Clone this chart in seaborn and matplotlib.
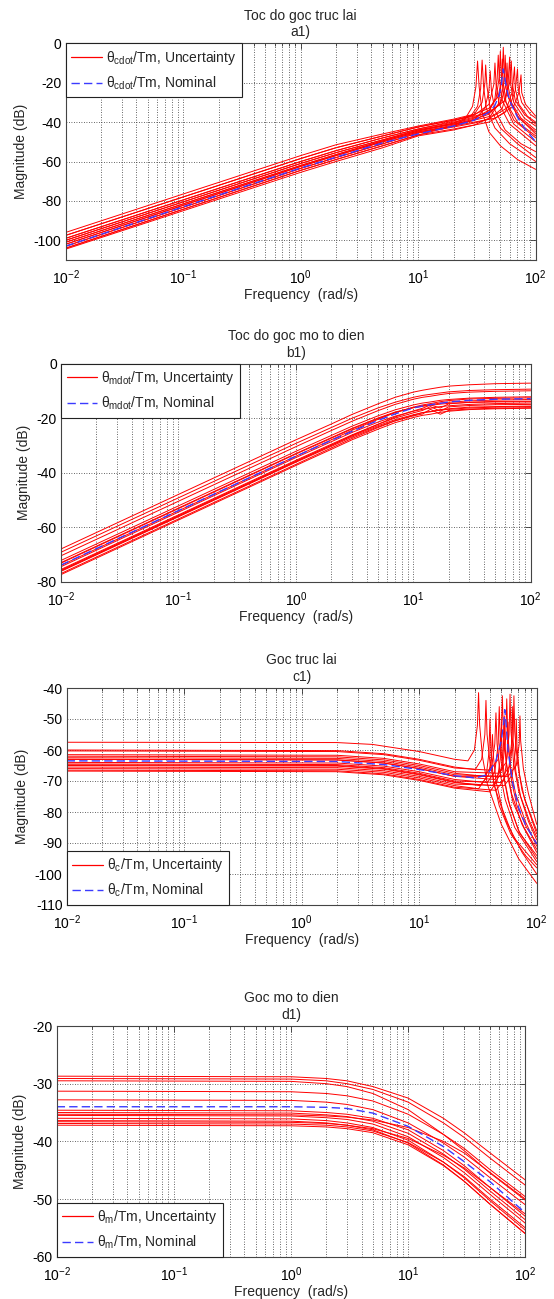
import pandas as pd
import seaborn as sns
import matplotlib.pyplot as plt
from matplotlib.lines import Line2D
from matplotlib.ticker import LogLocator, NullFormatter, MultipleLocator

# ---- a1) theta_cdot / Tm : (freq rad/s, dB) points ----
A_NOMINAL = [(0.01, -103), (0.1, -83), (1, -63.3), (2, -57.8), (5, -50.5), (10, -46), (20, -42),
             (30, -39), (40, -35), (45, -31.5), (49, -26), (51, -21), (53, -13), (55, -19),
             (58, -26), (62, -31), (70, -37.5), (80, -43), (100, -50)]
A_CURVES = [
    [(0.01, -104), (1, -64.5), (2, -59), (5, -52), (10, -46.5), (20, -42), (25, -38.5), (29, -32), (31, -22), (32, -9), (33, -22), (35, -35), (40, -45), (50, -52), (70, -59), (100, -64)],
    [(0.01, -101), (1, -62), (2, -56.5), (5, -49.5), (10, -44.5), (20, -40.5), (28, -37), (32, -32), (34, -23), (35, -8.5), (36, -22), (38, -33), (45, -43), (60, -51), (100, -60)],
    [(0.01, -99), (1, -60), (2, -54.5), (5, -48), (10, -43.5), (20, -39.5), (30, -36), (35, -30), (37, -20), (37.5, -11), (38.5, -22), (41, -33), (50, -43), (70, -51), (100, -58)],
    [(0.01, -103), (1, -63.5), (2, -58), (5, -51), (10, -45.5), (20, -42), (30, -39), (37, -33), (40, -24), (41, -14), (42, -24), (45, -34), (55, -44), (75, -51), (100, -55)],
    [(0.01, -97.5), (1, -58.5), (2, -53), (5, -47), (10, -42.5), (20, -39), (30, -36.5), (40, -31), (44, -21), (45, -10), (46, -21), (49, -31), (60, -41), (100, -52)],
    [(0.01, -102), (1, -62.5), (2, -57), (5, -50), (10, -45), (20, -41.5), (30, -39), (40, -35), (45, -28), (47, -18), (48, -6), (49, -18), (52, -29), (65, -41), (100, -50)],
    [(0.01, -100), (1, -61), (2, -55.5), (5, -49), (10, -44), (20, -40.5), (30, -38), (40, -34), (46, -28), (49, -17), (50, -4), (51, -17), (54, -28), (65, -39), (100, -48)],
    [(0.01, -104.5), (1, -65.5), (2, -60), (5, -53), (10, -47), (20, -44), (30, -41.5), (40, -38), (48, -31), (51, -20), (52, -8), (53, -20), (56, -30), (70, -40), (100, -47)],
    [(0.01, -96), (1, -57), (2, -51.5), (5, -46), (10, -42), (20, -38.5), (30, -36), (40, -33), (48, -27), (52, -16), (53, -2), (54, -15), (57, -26), (70, -37), (100, -46)],
    [(0.01, -101), (1, -62), (2, -56.5), (5, -49.5), (10, -44.5), (20, -41), (30, -38.5), (40, -36), (50, -30), (54, -19), (55, -6), (56, -18), (59, -28), (72, -38), (100, -45)],
    [(0.01, -99), (1, -60), (2, -54.5), (5, -48), (10, -43.5), (20, -40), (30, -37.5), (40, -35), (50, -31), (56, -21), (57, -10), (58, -21), (62, -30), (75, -38), (100, -44)],
    [(0.01, -103), (1, -63.5), (2, -58), (5, -51), (10, -45.5), (20, -42.5), (30, -40.5), (40, -38.5), (52, -33), (58, -22), (60, -7), (61, -20), (65, -30), (80, -38), (100, -42)],
    [(0.01, -97.5), (1, -58.5), (2, -53), (5, -47), (10, -42.5), (20, -39), (30, -37), (40, -35), (55, -29), (60, -20), (62, -9), (63, -20), (67, -29), (80, -36), (100, -41)],
    [(0.01, -104), (1, -64.5), (2, -59), (5, -52), (10, -46.5), (20, -43.5), (30, -41.5), (40, -40), (55, -35), (63, -25), (66, -12), (67, -23), (72, -31), (85, -37), (100, -40)],
    [(0.01, -100), (1, -61), (2, -55.5), (5, -49), (10, -44), (20, -41), (30, -39), (45, -36.5), (60, -32), (67, -24), (70, -13), (71, -23), (76, -30), (90, -36), (100, -38)],
    [(0.01, -102), (1, -62.5), (2, -57), (5, -50), (10, -45), (20, -42), (30, -40), (45, -38), (65, -32), (72, -25), (75, -16), (76, -25), (82, -31), (100, -37)],
]

# ---- b1) theta_mdot / Tm : values on a shared frequency grid ----
B_FREQ = [0.01, 1, 2, 3, 5, 7, 10, 12, 14, 17, 20, 30, 50, 100]
B_NOMINAL = [-73.9, -34, -28.2, -24.9, -20.9, -18.5, -16.3, -15.6, -15.1, -14.6, -14.1, -13.5, -13.1, -12.9]
B_CURVES = [
    [-68, -28, -22.2, -18.7, -14.8, -12.4, -10.5, -9.8, -9.3, -8.7, -8.3, -7.8, -7.4, -7.2],
    [-69.2, -29.3, -23.5, -20.1, -16.3, -14.2, -12.4, -11.7, -11.3, -10.8, -10.4, -9.9, -9.6, -9.4],
    [-70.5, -30.5, -24.6, -21.2, -17.3, -15, -13.1, -12.4, -12, -11.4, -11, -10.5, -10.2, -10],
    [-72.2, -32.2, -26.4, -23, -19.2, -17, -15.2, -14.5, -14.1, -13.5, -13.2, -12.7, -12.4, -12.2],
    [-74, -34, -28, -24.5, -20.5, -18, -16, -15.2, -14.7, -14, -13.6, -13, -12.8, -12.6],
    [-73.2, -33.2, -27.4, -24, -20.2, -18, -16.2, -15.5, -15.1, -14.5, -14.2, -13.7, -13.4, -13.2],
    [-76, -36, -30, -26.4, -22.3, -19.6, -17.4, -16.4, -15.2, -16.3, -14.8, -14.2, -13.9, -13.8],
    [-74.5, -34.5, -28.7, -25.3, -21.5, -19.3, -17.5, -16.8, -16.4, -15.8, -15.5, -15, -14.7, -14.5],
    [-75.5, -35.5, -29.6, -26.2, -22.3, -20, -18.1, -17.2, -15.8, -17.5, -15.9, -15.4, -15.1, -15],
    [-77, -37, -31, -27.5, -23.5, -21, -19, -18, -17.6, -16.9, -16.6, -16, -15.8, -15.6],
    [-76.2, -36.2, -30.4, -27, -23.2, -21, -19.2, -18.5, -16.8, -18.6, -17.2, -16.7, -16.4, -16.2],
    [-77.4, -37.4, -31.5, -28, -24.1, -21.7, -19.8, -19, -18.6, -17.9, -17.5, -16.9, -16.6, -16.4],
    [-73, -33, -27.2, -23.8, -20, -17.8, -16.2, -15.7, -15.3, -14.9, -14.6, -14.3, -14.1, -14],
    [-75.8, -35.8, -30, -26.6, -22.8, -20.6, -18.8, -18, -17.7, -17.1, -16.8, -16.3, -16, -15.8],
]

# ---- c1) theta_c / Tm : (freq rad/s, dB) points ----
C_NOMINAL = [(0.01, -63.5), (2, -63.7), (5, -64.7), (10, -66.3), (20, -68.3), (30, -69), (38, -68),
             (45, -63.5), (50, -57), (52.5, -51), (53.5, -47), (55, -52), (57, -60), (62, -70),
             (70, -78.5), (80, -84), (100, -90.3)]
C_CURVES = [
    [(0.01, -57.5), (2, -57.6), (4, -58.2), (10, -60.5), (20, -63), (26, -63.5), (29.5, -60), (31.3, -52), (32, -41.5), (32.7, -52), (34.5, -62), (38, -71), (50, -84), (70, -95), (100, -103)],
    [(0.01, -60), (2, -60.2), (5, -61.2), (10, -63), (20, -65.5), (30, -66.3), (34, -63), (36.2, -55), (37, -44), (37.8, -55), (40, -64), (44, -72), (55, -83), (75, -93), (100, -100)],
    [(0.01, -66), (2, -66.2), (5, -67.2), (10, -69), (20, -71.5), (32, -72.5), (37, -69), (39.2, -61), (40, -50), (40.8, -61), (43, -70), (48, -78), (60, -87), (80, -94), (100, -98)],
    [(0.01, -62), (2, -62.2), (5, -63.2), (10, -65), (20, -67.5), (36, -68.5), (41.5, -65), (44, -58), (45, -48), (46, -58), (48.5, -67), (54, -76), (65, -85), (100, -96)],
    [(0.01, -64), (2, -64.2), (5, -65.2), (10, -67), (20, -69.5), (38, -70.5), (44, -67), (47, -58), (48, -46), (49, -57), (51.5, -67), (57, -76), (70, -86), (100, -95)],
    [(0.01, -60.3), (2, -60.5), (5, -61.5), (10, -63.3), (20, -65.8), (40, -66.5), (47, -63), (50, -54), (51, -42.5), (52, -54), (55, -64), (61, -74), (75, -84), (100, -93)],
    [(0.01, -65), (2, -65.2), (5, -66.2), (10, -68), (20, -70.5), (42, -71.5), (49, -68), (52, -60), (53, -49), (54, -60), (57, -69), (63, -77), (78, -85), (100, -92)],
    [(0.01, -63), (2, -63.2), (5, -64.2), (10, -66), (20, -68.5), (44, -69.5), (51, -66), (54.5, -56), (55.6, -43.5), (56.7, -55), (59.5, -65), (66, -74), (80, -83), (100, -91)],
    [(0.01, -66.5), (2, -66.7), (5, -67.7), (10, -69.5), (20, -72), (45, -73), (53, -69.5), (56, -62), (57, -51), (58, -61), (61, -70), (68, -78), (82, -85), (100, -90)],
    [(0.01, -61.5), (2, -61.7), (5, -62.7), (10, -64.5), (20, -67), (47, -67.5), (55, -64), (58.2, -55), (59.3, -42), (60.4, -54), (63.5, -64), (70, -73), (85, -83), (100, -89)],
    [(0.01, -64.5), (2, -64.7), (5, -65.7), (10, -67.5), (20, -70), (50, -70.5), (57.5, -67), (61, -58), (62, -46), (63, -57), (66.5, -67), (73, -75), (87, -83), (100, -88)],
    [(0.01, -62.5), (2, -62.7), (5, -63.7), (10, -65.5), (20, -68), (51, -68.5), (59.5, -65), (63, -55), (64, -42.5), (65, -54), (68.5, -64), (75, -73), (88, -81), (100, -87)],
    [(0.01, -65.5), (2, -65.7), (5, -66.7), (10, -68.5), (20, -71), (53, -71.5), (62, -68), (66, -60), (67, -50), (68, -59), (71.5, -68), (79, -76), (100, -86)],
    [(0.01, -63), (2, -63.2), (5, -64.2), (10, -66), (20, -68.5), (57, -68.5), (67, -65), (71, -58), (72, -49), (73, -57), (77, -66), (85, -74), (100, -84)],
    [(0.01, -66.8), (2, -67), (5, -68), (10, -69.8), (20, -72.3), (40, -73.5), (46, -70), (49, -63), (50, -53), (51, -62), (53.5, -70), (59, -78), (72, -87), (100, -94)],
    [(0.01, -64.8), (2, -65), (5, -66), (10, -67.8), (20, -70.3), (33, -71.5), (39, -68), (41.2, -62), (42, -55), (42.8, -62), (45, -70), (51, -79), (63, -88), (100, -97)],
]

# ---- d1) theta_m / Tm : values on a shared frequency grid ----
D_FREQ = [0.01, 1, 2, 3, 5, 10, 20, 30, 50, 100]
D_NOMINAL = [-34, -34, -34.1, -34.3, -35.1, -37.4, -40.9, -43.5, -47, -52.4]
D_CURVES = [
    [-28.7, -28.8, -29.1, -29.5, -30.5, -32.5, -36, -38.5, -42, -46.7],
    [-29.1, -29.2, -29.5, -30, -31, -33.2, -36.8, -39.3, -42.9, -47.6],
    [-29.5, -29.6, -30, -30.5, -31.7, -34.5, -38.8, -41.6, -45.5, -50.2],
    [-31.3, -31.4, -31.7, -32.1, -33, -35.3, -38.8, -41.2, -44.9, -49.6],
    [-32.8, -32.9, -33.2, -33.6, -34.5, -36.8, -40.3, -42.7, -46.3, -51],
    [-34.6, -34.7, -35, -35.3, -36, -38, -41.6, -44.2, -48, -53],
    [-35, -35.1, -35.4, -35.7, -36.5, -38.6, -42.2, -44.8, -48.6, -53.6],
    [-35.5, -35.6, -35.9, -36.2, -37, -39.2, -42.8, -45.4, -49.2, -54.2],
    [-36, -36.1, -36.4, -36.8, -37.6, -39.8, -43.6, -46.3, -50.3, -55.4],
    [-36.4, -36.5, -36.8, -37.2, -38, -40.3, -44.1, -46.9, -50.9, -56],
    [-36.9, -37, -37.2, -37.5, -38.2, -40.2, -43.6, -46.1, -50, -55],
    [-37.2, -37.3, -37.5, -37.8, -38.5, -40.6, -44.2, -46.9, -50.9, -56],
    [-35.3, -35.4, -35.6, -35.8, -36.3, -37.6, -40, -42, -45.4, -50],
    [-36.6, -36.7, -36.9, -37.2, -37.8, -39.5, -42.4, -44.6, -48, -52.6],
]

TITLES = ["Toc do goc truc lai\na1)", "Toc do goc mo to dien\nb1)",
          "Goc truc lai\nc1)", "Goc mo to dien\nd1)"]
SUBS = ["cdot", "mdot", "c", "m"]

RED = "red"
BLUE = "#3b3bff"
NOM_DASH = (0, (6, 3))


def to_frame(curves):
    rows = []
    for i, pts in enumerate(curves):
        for f, m in pts:
            rows.append((i, f, m))
    return pd.DataFrame(rows, columns=["curve", "freq", "mag"])


def on_grid(freqs, rows):
    return [list(zip(freqs, r)) for r in rows]


sns.set_style("white")
plt.rcParams["font.family"] = ["Liberation Sans", "DejaVu Sans"]
plt.rcParams["mathtext.fontset"] = "custom"
plt.rcParams["mathtext.rm"] = "Liberation Sans"
plt.rcParams["mathtext.it"] = "Liberation Sans:italic"
plt.rcParams["mathtext.default"] = "regular"
plt.rcParams["axes.unicode_minus"] = False
plt.rcParams["font.size"] = 10

W, H = 554, 1299
fig = plt.figure(figsize=(W / 100, H / 100), dpi=100)

# axes boxes in pixels: left, right, top, bottom
boxes = [(65.7, 535.7, 43.3, 260), (61, 530.7, 363.5, 581.7),
         (66.7, 536.7, 688, 905), (56.7, 525.3, 1026, 1256.7)]

panels = [
    (A_CURVES, A_NOMINAL, (-110, 0), 20, "upper left"),
    (on_grid(B_FREQ, B_CURVES), list(zip(B_FREQ, B_NOMINAL)), (-80, 0), 20, "upper left"),
    (C_CURVES, C_NOMINAL, (-110, -40), 10, "lower left"),
    (on_grid(D_FREQ, D_CURVES), list(zip(D_FREQ, D_NOMINAL)), (-60, -20), 10, "lower left"),
]

for k, (box, (red, nom, ylim, ystep, loc)) in enumerate(zip(boxes, panels)):
    l, r, t, b = box
    ax = fig.add_axes([l / W, (H - b) / H, (r - l) / W, (b - t) / H])
    sns.lineplot(data=to_frame(red), x="freq", y="mag", units="curve", estimator=None,
                 sort=False, color=RED, lw=0.7, ax=ax, legend=False)
    sns.lineplot(data=to_frame([nom]), x="freq", y="mag", estimator=None, sort=False,
                 color=BLUE, lw=1.0, linestyle=NOM_DASH, ax=ax, legend=False)
    ax.set_xscale("log")
    ax.set_xlim(0.01, 100)
    ax.set_ylim(*ylim)
    ax.xaxis.set_major_locator(LogLocator(base=10, numticks=10))
    ax.xaxis.set_minor_locator(LogLocator(base=10, subs=range(2, 10), numticks=20))
    ax.xaxis.set_minor_formatter(NullFormatter())
    ax.yaxis.set_major_locator(MultipleLocator(ystep))
    ax.grid(True, which="major", axis="both", color="#333333", lw=0.6, linestyle=(0, (1, 2)))
    ax.grid(True, which="minor", axis="x", color="#333333", lw=0.6, linestyle=(0, (1, 2)))
    ax.tick_params(which="both", direction="in", top=True, right=True, colors="#333333",
                   labelcolor="black", labelsize=10, width=0.6)
    ax.tick_params(which="major", length=4)
    ax.tick_params(which="minor", length=2)
    ax.tick_params(axis="x", which="major", pad=6)
    ax.tick_params(axis="y", which="major", pad=3)
    for s in ax.spines.values():
        s.set_color("#444444")
        s.set_linewidth(0.8)
    ax.set_title(TITLES[k], fontsize=10, pad=5, linespacing=1.25)
    ax.set_xlabel("Frequency  (rad/s)", fontsize=10, labelpad=1)
    ax.set_ylabel("Magnitude (dB)", fontsize=10, labelpad=4)

    sub = SUBS[k]
    handles = [Line2D([], [], color=RED, lw=0.9),
               Line2D([], [], color=BLUE, lw=1.0, linestyle=NOM_DASH)]
    leg = ax.legend(handles=handles,
                    labels=[f"θ$_{{{sub}}}$/Tm, Uncertainty", f"θ$_{{{sub}}}$/Tm, Nominal"],
                    loc=loc, borderaxespad=0, fancybox=False, edgecolor="#222222",
                    framealpha=1, fontsize=10, handlelength=2.2, handletextpad=0.3,
                    labelspacing=0.55, borderpad=0.4)
    leg.get_frame().set_linewidth(0.8)

fig.savefig("out.png", dpi=100)
